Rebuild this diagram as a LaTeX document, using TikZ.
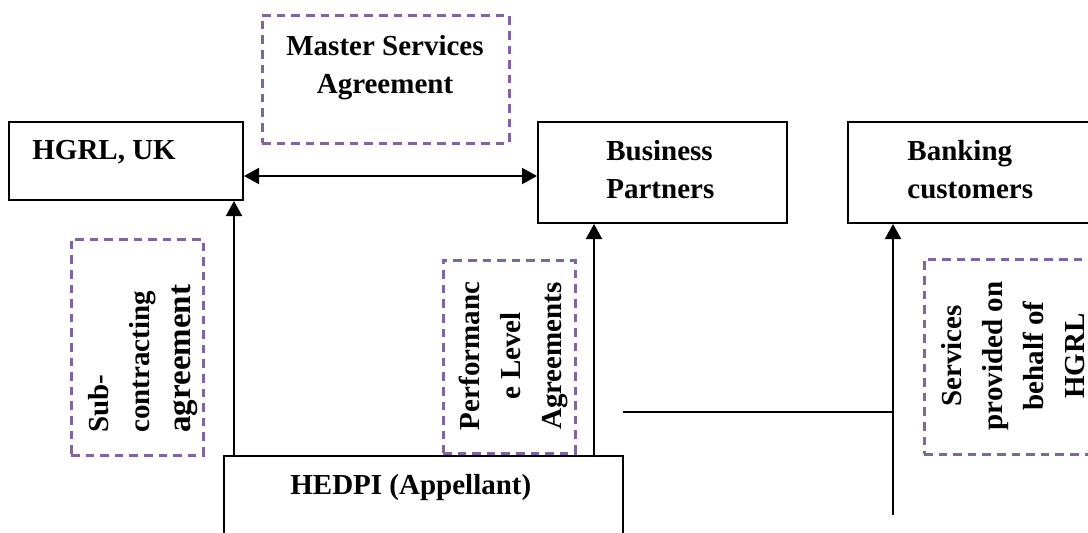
\documentclass[tikz,border=0pt]{standalone}
\usepackage{fontspec}
\setmainfont{Liberation Serif}
\usepackage{tikz}
\usetikzlibrary{positioning,fit,arrows.meta}
\definecolor{agrpurple}{RGB}{128,100,162}

\begin{document}
\begin{tikzpicture}[x=0.5pt,y=-0.5pt,
  >={Triangle[length=7.5pt,width=8pt]},
  party/.style={draw, line width=1pt, inner sep=0pt},
  agreement/.style={draw=agrpurple, line width=1.5pt, dash pattern=on 4.3pt off 3pt, inner sep=0pt},
  lbl/.style={inner sep=0pt, font=\fontsize{14.5}{19}\selectfont\bfseries},
  rlbl/.style={inner sep=0pt, rotate=90, font=\fontsize{14.5}{20.5}\selectfont\bfseries},
  link/.style={line width=1pt, ->}]
\useasboundingbox (0,0) rectangle (1088,532);
\clip (0,0) rectangle (1088,532);
  % parties
  \node[party, fit={(9,122) (243,200)}] (hgrl) {};
  \node[party, fit={(538,122) (787,223)}] (partners) {};
  \node[party, fit={(848,122) (1110,223)}] (banking) {};
  \node[party, fit={(224,456) (623,560)}] (hedpi) {};
  \node[lbl, anchor=base west] (hgrl-txt) at (32,159) {HGRL, UK};
  \node[lbl, anchor=base west, align=left] (partners-txt) at (606,198) {Business\\Partners};
  \node[lbl, anchor=base west, align=left] (banking-txt) at (907,198) {Banking\\customers};
  \node[lbl, anchor=base west] (hedpi-txt) at (290,494) {HEDPI (Appellant)};
  % agreements
  \node[agreement, fit={(262,15) (509,143)}] (msa) {};
  \node[agreement, fit={(71,239) (203,455)}] (subc) {};
  \node[agreement, fit={(443,260) (575,453)}] (pla) {};
  \node[agreement, fit={(924,259) (1110,454)}] (srv) {};
  \node[lbl, align=center] (msa-txt) at (385,68) {Master Services\\Agreement};
  \node[rlbl, anchor=north west, align=left] (subc-txt) at (88,433)
    {Sub-\\contracting\\{\fontsize{16.5}{20.5}\selectfont agreement}};
  \node[rlbl, align=center] (pla-txt) at (513,356) {Performanc\\e Level\\Agreements};
  \node[rlbl, align=center] (srv-txt) at (1013,356) {Services\\provided on\\behalf of\\HGRL};
  % connectors
  \coordinate (msa-lvl) at (0,176);
  \coordinate (subc-col) at (234,0);
  \coordinate (pla-col) at (594,0);
  \coordinate (srv-foot) at (893,515);
  \coordinate (srv-start) at (623,412);
  \draw[link, <->] (hgrl.east |- msa-lvl) -- (partners.west |- msa-lvl);
  \draw[link] (hedpi.north -| subc-col) -- (hgrl.south -| subc-col);
  \draw[link] (hedpi.north -| pla-col) -- (partners.south -| pla-col);
  \draw[link] (srv-foot) -- (banking.south -| srv-foot);
  \draw[line width=1pt] (srv-start) -- (srv-foot |- srv-start);
\end{tikzpicture}
\end{document}
